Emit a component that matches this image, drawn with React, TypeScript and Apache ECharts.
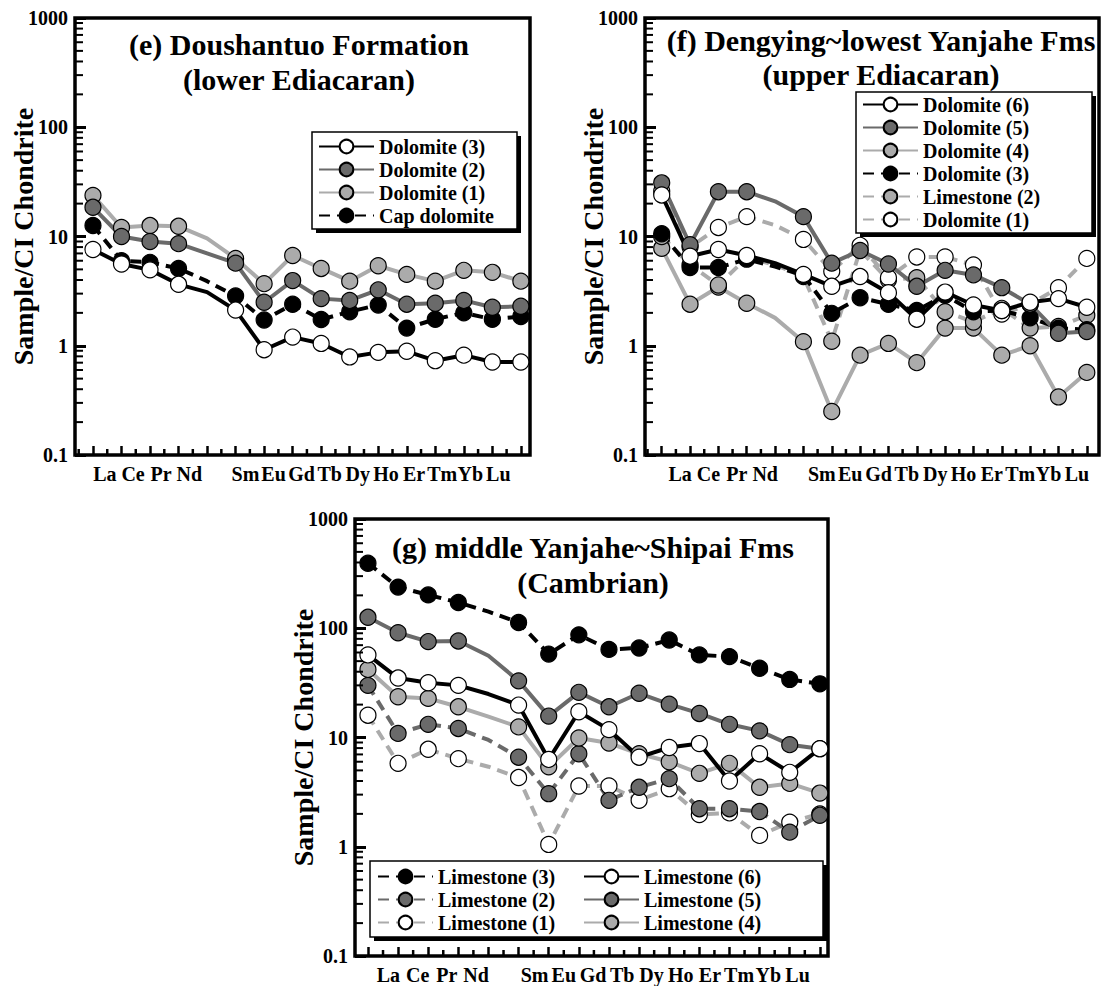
import { useEffect, useRef } from 'react';
import * as echarts from 'echarts';

// ---------- data ----------
const ELEMENT_LABELS = ['La', 'Ce', 'Pr', 'Nd', '', 'Sm', 'Eu', 'Gd', 'Tb', 'Dy', 'Ho', 'Er', 'Tm', 'Yb', 'Lu'];
const POSITIONS = [0, 1, 2, 3, 4, 5, 6, 7, 8, 9, 10, 11, 12, 13, 14, 15];
const PM_INDEX = 4; // interpolated point, drawn without marker
const Y_MINOR = [0.2, 0.3, 0.4, 0.5, 0.6, 0.7, 0.8, 0.9, 2, 3, 4, 5, 6, 7, 8, 9, 20, 30, 40, 50, 60, 70, 80, 90, 200, 300, 400, 500, 600, 700, 800, 900];
const X_MAJOR_TICKS = [0, 1, 2, 3, 4, 5, 6, 7, 8, 9, 10, 11, 12, 13, 14, 15];
const X_MINOR_TICKS = [-0.5, 0.5, 1.5, 2.5, 3.5, 4.5, 5.5, 6.5, 7.5, 8.5, 9.5, 10.5, 11.5, 12.5, 13.5, 14.5];

// (e) Doushantuo Formation
const E_DOL3 = [7.6, 5.6, 4.95, 3.65, 3.1, 2.12, 0.92, 1.2, 1.05, 0.79, 0.87, 0.89, 0.73, 0.82, 0.71, 0.71];
const E_DOL2 = [18.5, 10, 9.0, 8.6, 7.0, 5.7, 2.5, 3.95, 2.7, 2.6, 3.25, 2.4, 2.45, 2.6, 2.25, 2.3];
const E_DOL1 = [23.8, 12.1, 12.6, 12.4, 9.6, 6.3, 3.7, 6.7, 5.1, 3.9, 5.4, 4.5, 3.9, 4.9, 4.7, 3.9];
const E_CAP = [12.6, 6.0, 5.8, 5.1, 3.9, 2.85, 1.72, 2.4, 1.74, 2.05, 2.36, 1.45, 1.75, 2.0, 1.75, 1.85];

// (f) Dengying ~ lowest Yanjahe Fms
const F_DOL6 = [24, 6.6, 7.6, 6.7, 5.7, 4.5, 3.5, 4.3, 3.06, 1.75, 3.1, 2.36, 2.1, 2.5, 2.7, 2.25];
const F_DOL5 = [31, 8.4, 25.7, 25.7, 21, 15.2, 5.7, 7.45, 5.6, 3.5, 4.9, 4.45, 3.4, 2.4, 1.3, 1.35];
const F_DOL4 = [7.8, 2.4, 3.45, 2.45, 1.8, 1.09, 0.25, 0.82, 1.05, 0.7, 1.45, 1.45, 0.82, 1.0, 0.34, 0.57];
const F_DOL3 = [10.6, 5.2, 5.2, 6.2, 5.3, 4.4, 1.98, 2.75, 2.4, 2.1, 2.9, 2.05, 2.1, 1.8, 1.45, 1.4];
const F_LIM2 = [10, 5.5, 3.6, 6.4, 5.5, 4.3, 1.1, 7.5, 4.0, 4.2, 2.05, 1.65, 2.2, 1.45, 1.5, 1.9];
const F_DOL1 = [26, 8, 12.1, 15.2, 12.7, 9.4, 4.8, 8.3, 4.2, 6.5, 6.5, 5.5, 1.95, 2.4, 3.4, 6.3];

// (g) middle Yanjahe ~ Shipai Fms
const G_LIM3 = [394, 238, 202, 172, 142, 113, 58, 87, 64, 66, 78, 57, 55, 43, 34, 31];
const G_LIM2 = [30, 10.9, 13.2, 12.1, 9.5, 6.6, 3.06, 7.1, 2.66, 3.5, 4.2, 2.23, 2.23, 2.1, 1.36, 1.94];
const G_LIM1 = [16, 5.8, 7.8, 6.4, 5.4, 4.3, 1.05, 3.6, 3.6, 2.66, 3.4, 1.97, 2.04, 1.27, 1.68, 2.0];
const G_LIM6 = [57, 35, 31.7, 30, 25, 19.8, 6.3, 17.2, 11.8, 6.6, 8.1, 8.8, 4.0, 7.1, 4.8, 7.9];
const G_LIM5 = [126, 91, 75.5, 76.5, 56, 33, 15.7, 25.9, 19.1, 25.4, 20.2, 16.6, 13.2, 11.5, 8.6, 7.9];
const G_LIM4 = [42, 23.6, 22.8, 19.1, 15.5, 12.5, 5.4, 9.9, 8.9, 7.1, 6.0, 4.7, 5.8, 3.5, 3.8, 3.1];

// ---------- styles ----------
const FONT = 'Liberation Serif';
const BLACK = '#000000';
const DARK = '#6a6a6a';
const LIGHT = '#ababab';
const WHITE = '#ffffff';

type St = { line: string; fill: string; dashed: boolean };
const S_BLACK_WHITE: St = { line: BLACK, fill: WHITE, dashed: false };
const S_DARK: St = { line: DARK, fill: DARK, dashed: false };
const S_LIGHT: St = { line: LIGHT, fill: LIGHT, dashed: false };
const S_BLACK_DASH: St = { line: BLACK, fill: BLACK, dashed: true };
const S_DARK_DASH: St = { line: DARK, fill: DARK, dashed: true };
const S_LIGHT_DASH: St = { line: LIGHT, fill: LIGHT, dashed: true };
const S_LIGHT_DASH_WHITE: St = { line: LIGHT, fill: WHITE, dashed: true };

function lineSeries(name: string, values: number[], st: St) {
  return {
    type: 'line',
    name,
    data: values.map((v, i) =>
      i === PM_INDEX ? { value: [POSITIONS[i], v], symbol: 'none' } : [POSITIONS[i], v]
    ),
    symbol: 'circle',
    symbolSize: 16,
    showAllSymbol: true,
    z: 2,
    lineStyle: { color: st.line, width: 4, type: st.dashed ? [11, 7] : 'solid' },
    itemStyle: { color: st.fill, borderColor: BLACK, borderWidth: 1.2 },
    emphasis: { disabled: true },
  };
}

type Panel = {
  grid: { left: number; top: number; width: number; height: number };
  xMin: number;
  xMax: number;
  labelStart: number;
  labelStep: number;
  title: string;
  titleX: number;
  titleTop: number;
  titleLine: number;
  box: { x: number; y: number; w: number; h: number };
  legend: { padding: number[]; height?: number; textWidth?: number };
  legendOrder: string[];
  series: any[];
};

const PANELS: Panel[] = [
  {
    grid: { left: 75, top: 18, width: 455, height: 437 },
    xMin: -0.63,
    xMax: 15.32,
    labelStart: 0.42,
    labelStep: 0.985,
    title: '(e) Doushantuo Formation\n(lower Ediacaran)',
    titleX: 294,
    titleTop: 22,
    titleLine: 35,
    box: { x: 312, y: 132, w: 205, h: 97 },
    legend: { padding: [3, 4, 2, 6] },
    legendOrder: ['Dolomite (3)', 'Dolomite (2)', 'Dolomite (1)', 'Cap dolomite'],
    series: [
      lineSeries('Cap dolomite', E_CAP, S_BLACK_DASH),
      lineSeries('Dolomite (1)', E_DOL1, S_LIGHT),
      lineSeries('Dolomite (2)', E_DOL2, S_DARK),
      lineSeries('Dolomite (3)', E_DOL3, S_BLACK_WHITE),
    ],
  },
  {
    grid: { left: 645, top: 18, width: 454, height: 437 },
    xMin: -0.59,
    xMax: 15.43,
    labelStart: 0.65,
    labelStep: 1.0,
    title: '(f) Dengying~lowest Yanjahe Fms\n(upper Ediacaran)',
    titleX: 876,
    titleTop: 18,
    titleLine: 34,
    box: { x: 856, y: 92, w: 236, h: 141 },
    legend: { padding: [1, 4, 2, 6] },
    legendOrder: ['Dolomite (6)', 'Dolomite (5)', 'Dolomite (4)', 'Dolomite (3)', 'Limestone (2)', 'Dolomite (1)'],
    series: [
      lineSeries('Dolomite (4)', F_DOL4, S_LIGHT),
      lineSeries('Limestone (2)', F_LIM2, S_LIGHT_DASH),
      lineSeries('Dolomite (1)', F_DOL1, S_LIGHT_DASH_WHITE),
      lineSeries('Dolomite (3)', F_DOL3, S_BLACK_DASH),
      lineSeries('Dolomite (5)', F_DOL5, S_DARK),
      lineSeries('Dolomite (6)', F_DOL6, S_BLACK_WHITE),
    ],
  },
  {
    grid: { left: 355, top: 519, width: 473, height: 437 },
    xMin: -0.43,
    xMax: 15.27,
    labelStart: 0.68,
    labelStep: 0.97,
    title: '(g) middle Yanjahe~Shipai Fms\n(Cambrian)',
    titleX: 588,
    titleTop: 525,
    titleLine: 35,
    box: { x: 370, y: 861, w: 453, h: 76 },
    legend: { padding: [4, 4, 3, 7], height: 78, textWidth: 145 },
    legendOrder: ['Limestone (3)', 'Limestone (2)', 'Limestone (1)', 'Limestone (6)', 'Limestone (5)', 'Limestone (4)'],
    series: [
      lineSeries('Limestone (1)', G_LIM1, S_LIGHT_DASH_WHITE),
      lineSeries('Limestone (2)', G_LIM2, S_DARK_DASH),
      lineSeries('Limestone (4)', G_LIM4, S_LIGHT),
      lineSeries('Limestone (5)', G_LIM5, S_DARK),
      lineSeries('Limestone (6)', G_LIM6, S_BLACK_WHITE),
      lineSeries('Limestone (3)', G_LIM3, S_BLACK_DASH),
    ],
  },
];

function buildOption(p: Panel) {
  const labelPos: number[] = [];
  const labelMap: Record<string, string> = {};
  ELEMENT_LABELS.forEach((lab, i) => {
    if (!lab) return;
    const pos = +(p.labelStart + i * p.labelStep).toFixed(4);
    labelPos.push(pos);
    labelMap[pos.toFixed(3)] = lab;
  });

  const yMinor = {
    type: 'custom',
    silent: true,
    z: 6,
    data: Y_MINOR.map((v) => [p.xMin, v]),
    renderItem: (_params: any, api: any) => {
      const pt = api.coord([api.value(0), api.value(1)]);
      return {
        type: 'line',
        shape: { x1: pt[0], y1: pt[1], x2: pt[0] + 8, y2: pt[1] },
        style: { stroke: BLACK, lineWidth: 2 },
      };
    },
  };
  const xMinor = {
    type: 'custom',
    silent: true,
    z: 6,
    data: X_MINOR_TICKS.filter((x) => x > p.xMin && x < p.xMax).map((x) => [x, 0.1]),
    renderItem: (_params: any, api: any) => {
      const pt = api.coord([api.value(0), api.value(1)]);
      return {
        type: 'line',
        shape: { x1: pt[0], y1: pt[1], x2: pt[0], y2: pt[1] - 6 },
        style: { stroke: BLACK, lineWidth: 2.5 },
      };
    },
  };

  const legendText: any = {
    fontFamily: FONT,
    fontWeight: 'bold',
    fontSize: 20,
    lineHeight: 23,
    color: BLACK,
  };
  if (p.legend.textWidth) {
    legendText.width = p.legend.textWidth;
    legendText.overflow = 'none';
  }

  const b = p.box;
  return {
    animation: false,
    title: {
      text: p.title,
      left: p.titleX,
      top: p.titleTop,
      textAlign: 'center',
      textStyle: { fontFamily: FONT, fontWeight: 'bold', fontSize: 30, lineHeight: p.titleLine, color: BLACK },
    },
    graphic: [
      {
        type: 'rect',
        silent: true,
        z: 3,
        shape: { x: b.x + 4, y: b.y + 4, width: b.w, height: b.h },
        style: { fill: BLACK },
      },
      {
        type: 'rect',
        silent: true,
        z: 3,
        shape: { x: b.x, y: b.y, width: b.w, height: b.h },
        style: { fill: WHITE, stroke: BLACK, lineWidth: 1.5 },
      },
    ],
    grid: {
      ...p.grid,
      show: true,
      borderColor: BLACK,
      borderWidth: 3.5,
      backgroundColor: 'transparent',
    },
    xAxis: {
      type: 'value',
      min: p.xMin,
      max: p.xMax,
      axisLine: { show: false, onZero: false },
      splitLine: { show: false },
      axisTick: {
        show: true,
        inside: true,
        length: 9,
        customValues: X_MAJOR_TICKS,
        lineStyle: { color: BLACK, width: 2.5 },
      },
      axisLabel: {
        customValues: labelPos,
        margin: 9,
        fontFamily: FONT,
        fontWeight: 'bold',
        fontSize: 20,
        color: BLACK,
        formatter: (v: number) => labelMap[(+v).toFixed(3)] ?? '',
      },
    },
    yAxis: {
      type: 'log',
      logBase: 10,
      min: 0.1,
      max: 1000,
      name: 'Sample/CI Chondrite',
      nameLocation: 'middle',
      nameGap: 38,
      nameMoveOverlap: false,
      nameTextStyle: { fontFamily: FONT, fontWeight: 'bold', fontSize: 28, color: BLACK },
      axisLine: { show: false, onZero: false },
      splitLine: { show: false },
      axisTick: { show: true, inside: true, length: 11, lineStyle: { color: BLACK, width: 3 } },
      axisLabel: {
        margin: 7,
        fontFamily: FONT,
        fontWeight: 'bold',
        fontSize: 20,
        color: BLACK,
        formatter: (v: number) => String(Number((+v).toPrecision(3))),
      },
    },
    legend: {
      data: p.legendOrder,
      orient: 'vertical',
      left: b.x,
      top: b.y,
      height: p.legend.height,
      padding: p.legend.padding,
      itemWidth: 55,
      itemHeight: 17,
      itemGap: 0,
      selectedMode: false,
      backgroundColor: 'transparent',
      borderWidth: 0,
      z: 5,
      textStyle: legendText,
    },
    series: [...p.series, yMinor, xMinor],
  };
}

export default function App() {
  const r0 = useRef<HTMLDivElement>(null);
  const r1 = useRef<HTMLDivElement>(null);
  const r2 = useRef<HTMLDivElement>(null);

  useEffect(() => {
    const els = [r0.current, r1.current, r2.current];
    const charts = PANELS.map((p, i) => {
      const c = echarts.init(els[i] as HTMLDivElement, null, { renderer: 'svg' });
      c.setOption(buildOption(p) as any);
      return c;
    });
    return () => charts.forEach((c) => c.dispose());
  }, []);

  const layer: React.CSSProperties = { position: 'absolute', left: 0, top: 0, width: 1107, height: 986 };
  return (
    <div style={{ position: 'absolute', left: 0, top: 0, width: 1107, height: 986, background: '#fff' }}>
      <div ref={r0} style={layer} />
      <div ref={r1} style={layer} />
      <div ref={r2} style={layer} />
    </div>
  );
}
